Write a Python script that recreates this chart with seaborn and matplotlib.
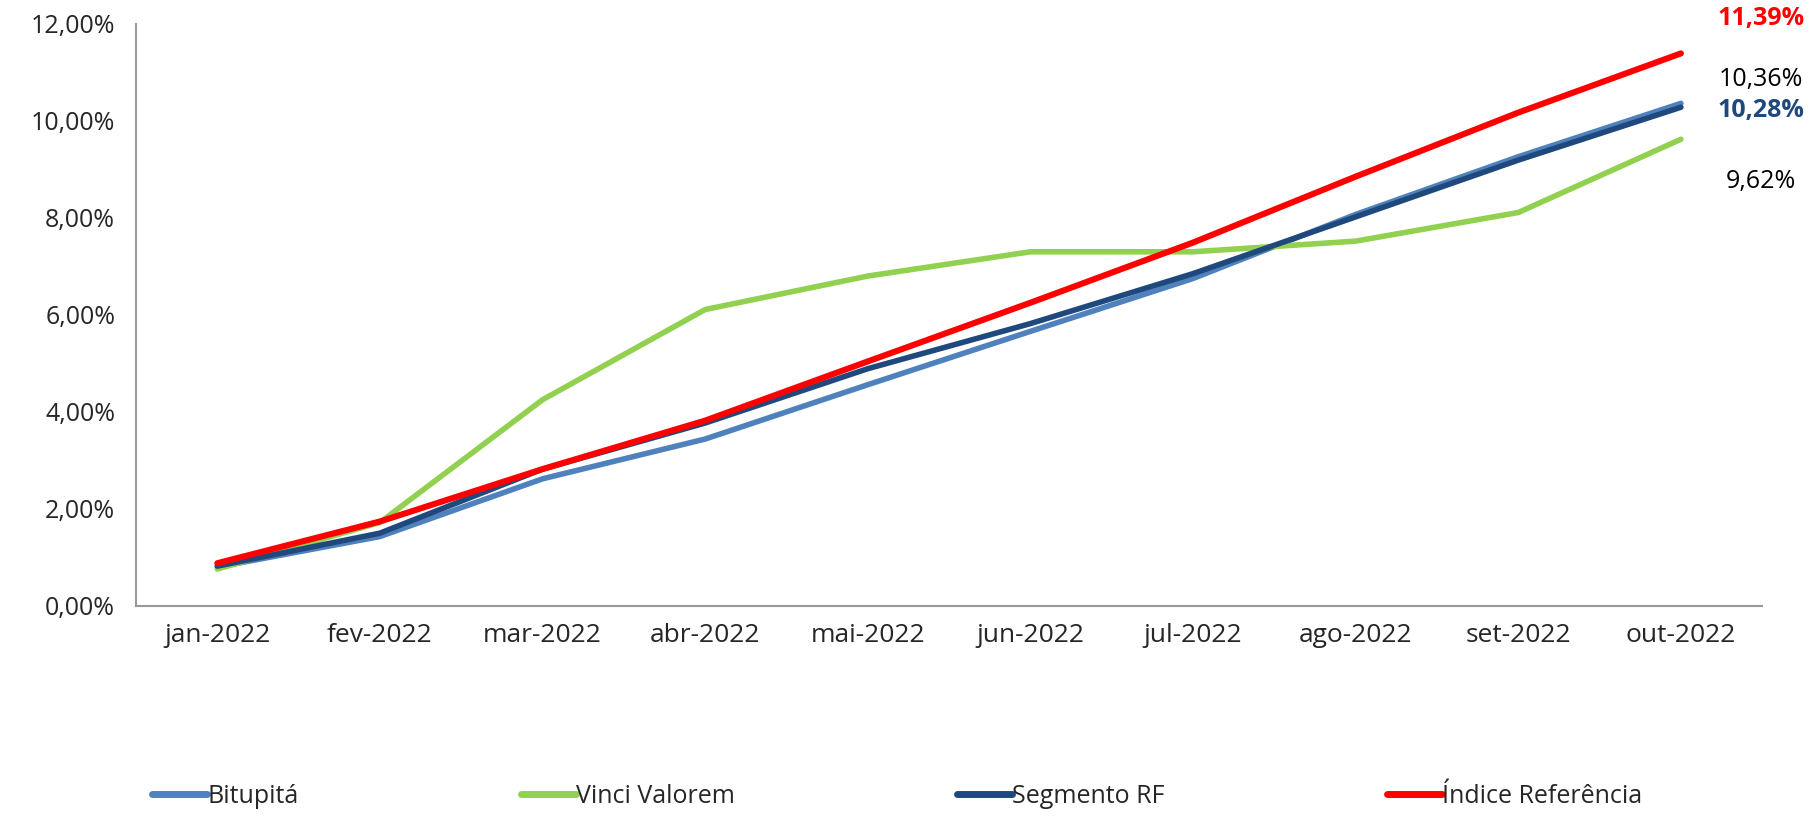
import pandas as pd
import numpy as np

import matplotlib
matplotlib.use("Agg")
import matplotlib.pyplot as plt
import seaborn as sns
from matplotlib.ticker import FuncFormatter, FixedLocator


# Data (accumulated return, %)
meses = ["jan-2022", "fev-2022", "mar-2022", "abr-2022", "mai-2022",
         "jun-2022", "jul-2022", "ago-2022", "set-2022", "out-2022"]

bitupita = [0.80, 1.43, 2.62, 3.44, 4.56, 5.66, 6.75, 8.07, 9.26, 10.36]
vinci = [0.76, 1.72, 4.25, 6.11, 6.80, 7.30, 7.30, 7.52, 8.11, 9.62]
segmento = [0.82, 1.50, 2.82, 3.77, 4.89, 5.82, 6.85, 8.02, 9.19, 10.28]
indice = [0.88, 1.74, 2.82, 3.82, 5.04, 6.25, 7.49, 8.85, 10.17, 11.39]

series = ["Bitupitá", "Vinci Valorem", "Segmento RF", "Índice Referência"]
cores = ["#4F81BD", "#92D050", "#1F497D", "#FF0000"]


# Long format table
df = pd.DataFrame({
    "mes": meses * 4,
    "pos": list(range(len(meses))) * 4,
    "valor": bitupita + vinci + segmento + indice,
    "serie": np.repeat(series, len(meses)),
})

sns.set_style("white")
plt.rcParams["font.family"] = ["Open Sans", "DejaVu Sans"]

fig = plt.figure(figsize=(18.13, 8.21), dpi=100)
ax = fig.add_axes([0.075, 0.262, 0.897, 0.709])

sns.lineplot(data=df, x="pos", y="valor", hue="serie", hue_order=series,
             palette=cores, linewidth=4.0, ax=ax, legend=False, sort=False)

# Red line a bit thicker, on top
ax.lines[3].set_linewidth(4.4)
ax.lines[3].set_zorder(5)

ax.set_xlim(-0.5, len(meses) - 0.5)
ax.set_ylim(0, 12)
ax.set_yticks(np.arange(0, 13, 2))
ax.yaxis.set_major_formatter(FuncFormatter(lambda v, p: f"{v:.2f}".replace(".", ",") + "%"))

ax.set_xticks(range(len(meses)))
ax.set_xticklabels(meses)
ax.xaxis.set_minor_locator(FixedLocator(np.arange(-0.5, len(meses), 1)))
ax.tick_params(axis="x", which="major", length=0, pad=12, labelsize=19)
ax.tick_params(axis="x", which="minor", length=9, width=1.5, color="#999999", direction="out")
ax.tick_params(axis="y", length=9, width=1.5, color="#999999", direction="out", labelsize=18, pad=6)

ax.set_xlabel("")
ax.set_ylabel("")
for s in ["top", "right"]:
    ax.spines[s].set_visible(False)
for s in ["left", "bottom"]:
    ax.spines[s].set_color("#999999")
    ax.spines[s].set_linewidth(1.5)


# End labels
finais = [
    (indice[-1], "#FF0000", "bold", 35),
    (bitupita[-1], "black", "normal", 24),
    (segmento[-1], "#1F497D", "bold", -3),
    (vinci[-1], "black", "normal", -42),
]
for v, c, w, dy in finais:
    ax.annotate(f"{v:.2f}".replace(".", ",") + "%", xy=(len(meses) - 1, v),
                xytext=(80, dy), textcoords="offset pixels",
                ha="center", va="center", fontsize=18, color=c, fontweight=w,
                annotation_clip=False)


# Legend
handles = [plt.Line2D([0], [0], color=c, linewidth=5) for c in cores]
fig.legend(handles, series, loc="center left", bbox_to_anchor=(0.084, 0.03), ncol=4,
           frameon=False, fontsize=18, handlelength=2.2, handletextpad=0.0,
           columnspacing=8.9, borderpad=0, borderaxespad=0)

fig.savefig("out.png", dpi=100)
